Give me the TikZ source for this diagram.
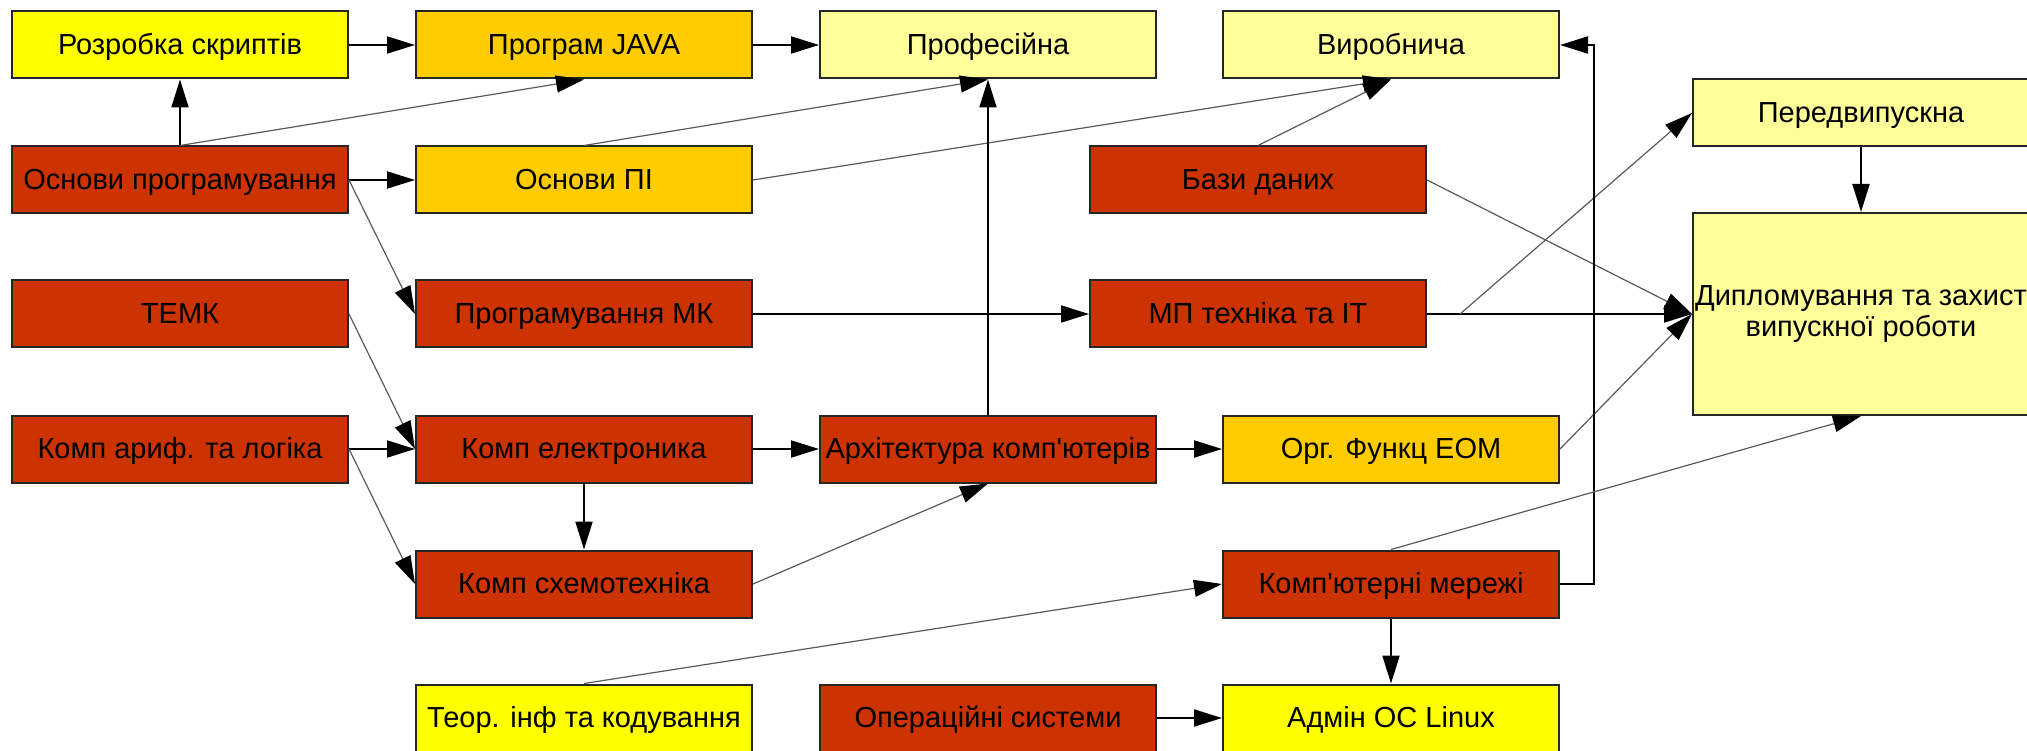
\documentclass[tikz,border=0pt]{standalone}
\usepackage{fontspec}
\setmainfont{Liberation Sans}[Ligatures=TeXOff]
\usetikzlibrary{arrows.meta}
\definecolor{cred}{RGB}{204,51,0}
\definecolor{cgold}{RGB}{255,204,0}
\definecolor{cyel}{RGB}{255,255,0}
\definecolor{cpale}{RGB}{255,255,153}
\begin{document}
\begin{tikzpicture}[x=1pt,y=-1pt,font=\fontsize{29}{31}\selectfont,
course/.style={draw=black!85,line width=2pt,minimum width=336pt,minimum height=67pt,inner sep=0pt,align=center,text height=21pt,text depth=2pt},
arr/.style={line width=2pt,-{Triangle[length=28pt,width=17pt]}},
lnk/.style={line width=1.2pt,black!65,-{Triangle[length=28pt,width=17pt,color=black]}}]
\useasboundingbox (0,0) rectangle (2027,751);
\node[course,fill=cyel] (rozrobka) at (180,45) {Розробка скриптів};
\node[course,fill=cgold] (java) at (584,45) {Програм JAVA};
\node[course,fill=cpale] (prof) at (988,45) {Професійна};
\node[course,fill=cpale] (vyrob) at (1391,45) {Виробнича};
\node[course,fill=cred] (osnprog) at (180,180) {Основи програмування};
\node[course,fill=cgold] (osnpi) at (584,180) {Основи ПІ};
\node[course,fill=cred] (bazy) at (1258,180) {Бази даних};
\node[course,fill=cpale] (peredvyp) at (1861,113) {Передвипускна};
\node[course,fill=cpale,minimum height=202pt,text height={},text depth={}] (diplom) at (1861,314) {Дипломування та захист\\випускної роботи};
\node[course,fill=cred] (temk) at (180,314) {ТЕМК};
\node[course,fill=cred] (progmk) at (584,314) {Програмування МК};
\node[course,fill=cred] (mptech) at (1258,314) {МП техніка та ІТ};
\node[course,fill=cred] (komparif) at (180,449) {Комп ариф. та логіка};
\node[course,fill=cred] (kompel) at (584,449) {Комп електроника};
\node[course,fill=cred] (arch) at (988,449) {Архітектура комп'ютерів};
\node[course,fill=cgold] (org) at (1391,449) {Орг. Функц ЕОМ};
\node[course,fill=cred] (kompsch) at (584,584) {Комп схемотехніка};
\node[course,fill=cred] (merezhi) at (1391,584) {Комп'ютерні мережі};
\node[course,fill=cyel] (teor) at (584,718) {Теор. інф та кодування};
\node[course,fill=cred] (os) at (988,718) {Операційні системи};
\node[course,fill=cyel] (admin) at (1391,718) {Адмін ОС Linux};
\coordinate (mpfork) at (1460,314);
\draw[arr] (rozrobka) -- (java);
\draw[arr] (java) -- (prof);
\draw[arr] (osnprog) -- (rozrobka);
\draw[arr] (osnprog) -- (osnpi);
\draw[lnk] (osnprog.north) -- (java.south);
\draw[lnk] (osnprog.east) -- (progmk.west);
\draw[lnk] (osnpi.north) -- (prof.south);
\draw[lnk] (osnpi.east) -- (vyrob.south);
\draw[lnk] (bazy.north) -- (vyrob.south);
\draw[lnk] (bazy.east) -- (diplom.west);
\draw[arr] (arch) -- (prof);
\draw[arr] (progmk) -- (mptech);
\draw[arr] (mptech) -- (diplom);
\draw[lnk] (mpfork) -- (peredvyp.west);
\draw[arr] (peredvyp) -- (diplom);
\draw[lnk] (temk.east) -- (kompel.west);
\draw[arr] (komparif) -- (kompel);
\draw[lnk] (komparif.east) -- (kompsch.west);
\draw[arr] (kompel) -- (kompsch);
\draw[arr] (kompel) -- (arch);
\draw[lnk] (kompsch.east) -- (arch.south);
\draw[arr] (arch) -- (org);
\draw[lnk] (org.east) -- (diplom.west);
\draw[arr] (merezhi.east) -- ++(34,0) |- (vyrob.east);
\draw[lnk] (merezhi.north) -- (diplom.south);
\draw[lnk] (teor.north) -- (merezhi.west);
\draw[arr] (merezhi) -- (admin);
\draw[arr] (os) -- (admin);
\end{tikzpicture}
\end{document}
